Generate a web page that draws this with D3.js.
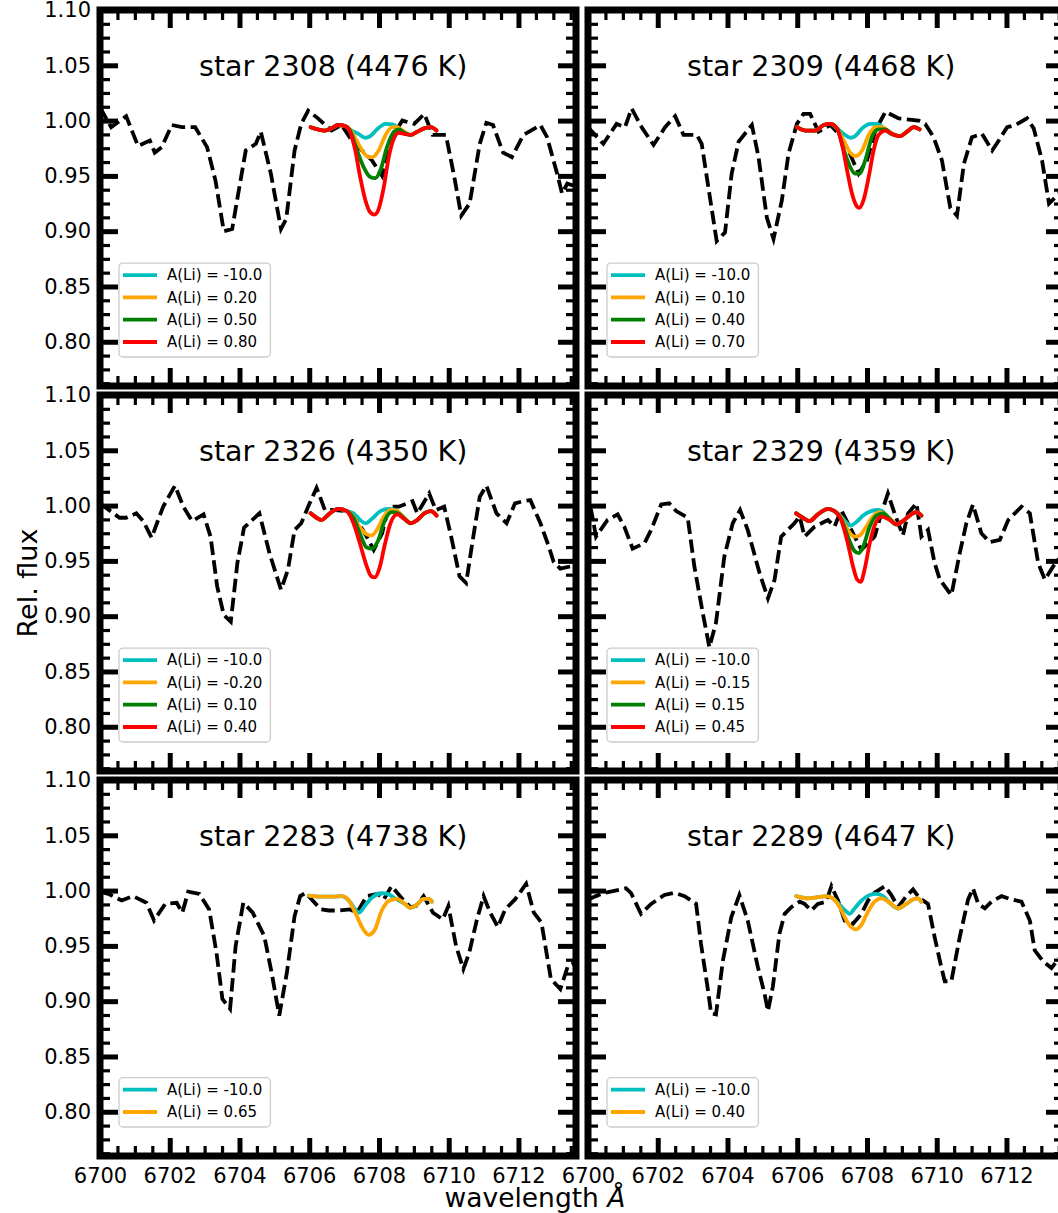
<!DOCTYPE html>
<html>
<head>
<meta charset="utf-8">
<script src="https://d3js.org/d3.v7.min.js"></script>
<style>
  body { margin: 0; background: #fff; }
  svg { display: block; font-family: "DejaVu Sans", sans-serif; }
</style>
</head>
<body>
<div id="chart"></div>
<script>
// axis setup
const xDomain = [6700, 6713.65];
const yDomain = [0.76, 1.10];
const xMajor = [6700, 6702, 6704, 6706, 6708, 6710, 6712];
const yMajor = [0.80, 0.85, 0.90, 0.95, 1.00, 1.05, 1.10];

const titles = ["star 2308 (4476 K)", "star 2309 (4468 K)", "star 2326 (4350 K)",
                "star 2329 (4359 K)", "star 2283 (4738 K)", "star 2289 (4647 K)"];
const labels2308 = ["-10.0", "0.20", "0.50", "0.80"];
const labels2309 = ["-10.0", "0.10", "0.40", "0.70"];
const labels2326 = ["-10.0", "-0.20", "0.10", "0.40"];
const labels2329 = ["-10.0", "-0.15", "0.15", "0.45"];
const labels2283 = ["-10.0", "0.65"];
const labels2289 = ["-10.0", "0.40"];
const fitColors = ["#00bfbf", "#ffa500", "#008000", "#ff0000"];

// observed spectra [wavelength, rel. flux]
const obs2308 = [[6700.00,1.012],[6700.32,0.994],[6700.75,1.004],[6701.09,0.977],[6701.43,0.982],[6701.57,0.971],
  [6701.77,0.976],[6702.06,0.996],[6702.35,0.994],[6702.73,0.994],[6703.07,0.976],[6703.31,0.946],[6703.55,0.900],
  [6703.79,0.902],[6704.03,0.946],[6704.18,0.973],[6704.47,0.979],[6704.61,0.990],[6704.90,0.952],[6705.19,0.902],
  [6705.34,0.911],[6705.58,0.973],[6705.77,0.997],[6705.97,1.009],[6706.25,1.002],[6706.64,0.991],[6706.93,0.996],
  [6707.22,0.982],[6707.51,0.973],[6707.80,0.964],[6708.09,0.950],[6708.38,0.985],[6708.67,1.000],[6709.01,0.997],
  [6709.30,1.006],[6709.54,0.987],[6709.92,0.987],[6710.16,0.949],[6710.36,0.914],[6710.60,0.925],[6710.89,0.979],
  [6711.08,0.998],[6711.27,0.996],[6711.56,0.971],[6711.81,0.967],[6712.14,0.987],[6712.63,0.996],[6712.82,0.985],
  [6713.11,0.952],[6713.25,0.934],[6713.40,0.943],[6713.70,0.940]];
const obs2309 = [[6700.00,0.994],[6700.44,0.979],[6700.82,0.997],[6701.06,0.994],[6701.25,1.011],[6701.54,0.994],
  [6701.88,0.978],[6702.21,0.994],[6702.50,1.004],[6702.74,0.987],[6703.12,0.987],[6703.26,0.979],[6703.45,0.940],
  [6703.69,0.891],[6703.93,0.899],[6704.12,0.952],[6704.32,0.981],[6704.70,0.996],[6704.89,0.967],[6705.13,0.912],
  [6705.32,0.893],[6705.56,0.928],[6705.75,0.970],[6705.99,0.997],[6706.18,1.006],[6706.37,1.006],[6706.61,0.990],
  [6706.95,0.996],[6707.19,0.988],[6707.47,0.973],[6707.76,0.952],[6708.00,0.964],[6708.24,0.991],[6708.53,1.008],
  [6708.91,1.002],[6709.48,1.000],[6709.67,0.997],[6709.91,0.985],[6710.15,0.964],[6710.39,0.921],[6710.58,0.914],
  [6710.78,0.961],[6711.01,0.985],[6711.30,0.988],[6711.59,0.973],[6711.78,0.982],[6712.02,0.994],[6712.26,0.996],
  [6712.59,1.002],[6712.78,0.993],[6713.02,0.964],[6713.22,0.925],[6713.41,0.931],[6713.70,0.940]];
const obs2326 = [[6700.00,1.002],[6700.17,0.998],[6700.56,0.989],[6700.75,0.989],[6701.04,0.993],[6701.24,0.986],
  [6701.48,0.971],[6701.81,0.999],[6702.15,1.018],[6702.39,0.999],[6702.64,0.986],[6702.97,0.992],[6703.17,0.972],
  [6703.36,0.927],[6703.55,0.901],[6703.75,0.895],[6703.94,0.948],[6704.13,0.980],[6704.57,0.993],[6704.86,0.957],
  [6705.19,0.924],[6705.39,0.942],[6705.58,0.978],[6705.77,0.984],[6706.01,1.002],[6706.21,1.016],[6706.45,0.996],
  [6706.74,0.996],[6707.03,0.995],[6707.32,0.989],[6707.61,0.974],[6707.85,0.960],[6708.09,0.975],[6708.28,0.999],
  [6708.57,0.999],[6708.96,1.004],[6709.10,0.993],[6709.44,1.011],[6709.63,0.996],[6709.87,0.999],[6710.07,0.972],
  [6710.31,0.936],[6710.50,0.930],[6710.69,0.969],[6710.89,1.008],[6711.08,1.018],[6711.37,0.993],[6711.66,0.984],
  [6711.90,1.002],[6712.14,1.004],[6712.34,1.005],[6712.63,0.984],[6712.87,0.963],[6713.01,0.949],[6713.20,0.943],
  [6713.49,0.945],[6713.70,0.945]];
const obs2329 = [[6700.00,0.998],[6700.09,0.996],[6700.23,0.972],[6700.56,0.987],[6700.85,0.992],[6701.04,0.981],
  [6701.28,0.961],[6701.62,0.966],[6701.81,0.978],[6702.10,1.001],[6702.33,1.002],[6702.53,0.995],[6702.86,0.989],
  [6703.05,0.945],[6703.29,0.903],[6703.48,0.872],[6703.67,0.894],[6703.91,0.954],[6704.15,0.984],[6704.36,0.996],
  [6704.58,0.978],[6704.92,0.939],[6705.16,0.916],[6705.35,0.933],[6705.54,0.972],[6705.92,0.984],[6706.07,0.990],
  [6706.21,0.972],[6706.50,0.981],[6706.88,0.987],[6707.07,0.981],[6707.26,0.996],[6707.55,0.978],[6707.84,0.960],
  [6708.22,0.972],[6708.41,0.993],[6708.60,1.011],[6708.79,0.993],[6709.03,0.973],[6709.18,0.993],[6709.42,1.002],
  [6709.56,0.972],[6709.75,0.978],[6709.94,0.948],[6710.09,0.933],[6710.42,0.919],[6710.66,0.957],[6710.85,0.984],
  [6711.04,1.001],[6711.28,0.975],[6711.52,0.967],[6711.81,0.969],[6712.05,0.987],[6712.24,0.993],[6712.43,0.999],
  [6712.67,0.993],[6712.91,0.948],[6713.10,0.933],[6713.34,0.945],[6713.48,0.951],[6713.70,0.950]];
const obs2283 = [[6700.00,0.999],[6700.24,0.997],[6700.62,0.991],[6700.95,0.995],[6701.33,0.989],[6701.55,0.973],
  [6701.87,0.988],[6702.20,0.989],[6702.36,0.980],[6702.53,0.999],[6702.85,0.997],[6703.13,0.983],[6703.34,0.944],
  [6703.51,0.902],[6703.73,0.893],[6703.89,0.950],[6704.11,0.989],[6704.38,0.980],[6704.71,0.959],[6704.92,0.926],
  [6705.14,0.887],[6705.36,0.926],[6705.58,0.977],[6705.74,0.995],[6705.90,0.998],[6706.07,0.992],[6706.34,0.983],
  [6706.56,0.982],[6706.88,0.982],[6707.16,0.983],[6707.37,0.980],[6707.65,0.995],[6707.97,0.997],[6708.14,0.992],
  [6708.36,1.004],[6708.63,0.994],[6708.90,0.985],[6709.06,0.986],[6709.28,0.995],[6709.55,0.980],[6709.83,0.974],
  [6709.99,0.986],[6710.21,0.950],[6710.42,0.929],[6710.59,0.944],[6710.81,0.974],[6711.00,0.995],[6711.19,0.980],
  [6711.41,0.967],[6711.62,0.983],[6711.90,0.992],[6712.22,1.006],[6712.44,0.980],[6712.66,0.971],[6712.93,0.920],
  [6713.20,0.911],[6713.42,0.932],[6713.70,0.936]];
const obs2289 = [[6700.00,0.992],[6700.09,0.993],[6700.23,0.995],[6700.47,0.998],[6701.09,1.002],[6701.23,0.998],
  [6701.52,0.979],[6701.81,0.988],[6702.19,0.996],[6702.48,0.998],[6702.77,0.995],[6703.10,0.988],[6703.24,0.952],
  [6703.44,0.910],[6703.53,0.889],[6703.67,0.888],[6703.87,0.937],[6704.11,0.976],[6704.34,0.996],[6704.58,0.973],
  [6704.87,0.931],[6705.06,0.907],[6705.16,0.891],[6705.30,0.913],[6705.49,0.961],[6705.64,0.979],[6705.83,0.985],
  [6706.07,0.990],[6706.21,0.988],[6706.40,0.982],[6706.59,0.988],[6706.83,0.990],[6706.98,1.004],[6707.17,0.991],
  [6707.36,0.973],[6707.60,0.970],[6707.84,0.979],[6708.03,0.991],[6708.22,0.998],[6708.51,1.004],[6708.70,0.996],
  [6708.89,0.985],[6709.13,0.995],[6709.32,1.001],[6709.51,0.993],[6709.75,0.988],[6709.94,0.958],[6710.13,0.931],
  [6710.23,0.918],[6710.42,0.918],[6710.66,0.958],[6710.90,0.992],[6711.04,1.002],[6711.19,0.988],[6711.38,0.984],
  [6711.57,0.990],[6711.86,0.995],[6712.14,0.992],[6712.43,0.990],[6712.67,0.973],[6712.81,0.946],[6713.05,0.936],
  [6713.29,0.930],[6713.44,0.936],[6713.70,0.945]];

// synthetic fits: shared wings + line core for each A(Li)
const fit2308Left = [[6706.04,0.994],[6706.25,0.992],[6706.45,0.991],[6706.64,0.993],[6706.83,0.996],[6707.03,0.995]];
const fit2308Right = [[6708.91,0.987],[6709.10,0.990],[6709.30,0.993],[6709.49,0.994],[6709.65,0.991]];
const fit2308Cores = [
  [[6707.22,0.991],[6707.41,0.988],[6707.61,0.9845],[6707.75,0.986],[6707.94,0.992],[6708.19,0.997],[6708.38,0.9965],[6708.57,0.993],[6708.72,0.989]],
  [[6707.17,0.992],[6707.36,0.982],[6707.56,0.971],[6707.70,0.967],[6707.82,0.967],[6707.99,0.973],[6708.19,0.987],[6708.38,0.994],[6708.52,0.994],[6708.72,0.990]],
  [[6707.17,0.991],[6707.36,0.974],[6707.56,0.958],[6707.75,0.949],[6707.90,0.948],[6708.04,0.955],[6708.23,0.976],[6708.43,0.990],[6708.57,0.992],[6708.72,0.989]],
  [[6707.17,0.990],[6707.32,0.973],[6707.46,0.949],[6707.61,0.928],[6707.75,0.917],[6707.87,0.915],[6707.99,0.920],[6708.14,0.940],[6708.28,0.967],[6708.43,0.984],[6708.57,0.989],[6708.72,0.988]]
];
const fit2309Left = [[6705.99,0.994],[6706.23,0.991],[6706.52,0.991],[6706.76,0.996],[6706.95,0.997],[6707.14,0.993]];
const fit2309Right = [[6708.96,0.986],[6709.15,0.990],[6709.34,0.994],[6709.51,0.992]];
const fit2309Cores = [
  [[6707.33,0.988],[6707.52,0.9845],[6707.66,0.986],[6707.86,0.993],[6708.10,0.997],[6708.29,0.997],[6708.48,0.993],[6708.67,0.988]],
  [[6707.33,0.982],[6707.52,0.971],[6707.68,0.968],[6707.86,0.973],[6708.05,0.987],[6708.24,0.994],[6708.43,0.994],[6708.67,0.989]],
  [[6707.33,0.974],[6707.52,0.958],[6707.66,0.952],[6707.78,0.952],[6707.95,0.964],[6708.14,0.985],[6708.33,0.992],[6708.53,0.992],[6708.72,0.988]],
  [[6707.28,0.979],[6707.43,0.955],[6707.57,0.934],[6707.68,0.924],[6707.78,0.921],[6707.90,0.928],[6708.05,0.949],[6708.19,0.973],[6708.33,0.987],[6708.53,0.991],[6708.77,0.987]]
];
const fit2326Left = [[6706.04,0.993],[6706.21,0.989],[6706.35,0.987],[6706.59,0.993],[6706.83,0.997],[6707.08,0.995]];
const fit2326Right = [[6708.91,0.984],[6709.10,0.987],[6709.30,0.993],[6709.49,0.995],[6709.65,0.991]];
const fit2326Cores = [
  [[6707.27,0.993],[6707.46,0.987],[6707.61,0.984],[6707.80,0.988],[6708.04,0.995],[6708.28,0.997],[6708.47,0.996],[6708.67,0.990]],
  [[6707.27,0.990],[6707.46,0.980],[6707.65,0.974],[6707.78,0.973],[6707.94,0.978],[6708.14,0.990],[6708.33,0.996],[6708.52,0.995],[6708.72,0.989]],
  [[6707.27,0.989],[6707.46,0.974],[6707.65,0.962],[6707.80,0.961],[6707.97,0.968],[6708.16,0.986],[6708.36,0.994],[6708.55,0.993],[6708.74,0.988]],
  [[6707.27,0.984],[6707.46,0.965],[6707.65,0.945],[6707.78,0.936],[6707.88,0.935],[6708.01,0.943],[6708.17,0.965],[6708.33,0.984],[6708.52,0.992],[6708.72,0.988]]
];
const fit2329Left = [[6705.97,0.993],[6706.16,0.989],[6706.35,0.986],[6706.59,0.992],[6706.88,0.997],[6707.07,0.995]];
const fit2329Right = [[6708.84,0.983],[6709.03,0.986],[6709.22,0.991],[6709.42,0.994],[6709.56,0.991]];
const fit2329Cores = [
  [[6707.26,0.990],[6707.40,0.985],[6707.53,0.982],[6707.69,0.985],[6707.89,0.991],[6708.12,0.995],[6708.32,0.996],[6708.51,0.993],[6708.65,0.988]],
  [[6707.26,0.989],[6707.45,0.978],[6707.64,0.972],[6707.79,0.973],[6707.98,0.981],[6708.17,0.990],[6708.36,0.994],[6708.56,0.991],[6708.70,0.987]],
  [[6707.26,0.988],[6707.45,0.972],[6707.64,0.959],[6707.76,0.957],[6707.89,0.963],[6708.08,0.981],[6708.27,0.991],[6708.46,0.993],[6708.65,0.988]],
  [[6707.26,0.987],[6707.45,0.966],[6707.60,0.945],[6707.72,0.933],[6707.82,0.931],[6707.93,0.942],[6708.08,0.966],[6708.22,0.982],[6708.41,0.990],[6708.65,0.987]]
];
const fit2283Left = [[6705.99,0.9955],[6706.34,0.9946],[6706.67,0.9946],[6706.94,0.995]];
const fit2283Right = [[6708.90,0.9844],[6709.06,0.9865],[6709.28,0.9925],[6709.44,0.9925],[6709.52,0.990]];
const fit2283Cores = [
  [[6707.16,0.990],[6707.32,0.983],[6707.43,0.980],[6707.59,0.986],[6707.81,0.994],[6708.08,0.9976],[6708.25,0.997],[6708.46,0.993],[6708.74,0.988]],
  [[6707.10,0.9925],[6707.32,0.980],[6707.54,0.9655],[6707.70,0.960],[6707.87,0.964],[6708.08,0.982],[6708.30,0.991],[6708.52,0.9925],[6708.74,0.988]]
];
const fit2289Left = [[6705.97,0.995],[6706.31,0.993],[6706.59,0.994],[6706.83,0.995],[6707.02,0.993]];
const fit2289Right = [[6708.89,0.984],[6709.13,0.988],[6709.32,0.992],[6709.46,0.993],[6709.56,0.990]];
const fit2289Cores = [
  [[6707.22,0.987],[6707.41,0.981],[6707.50,0.979],[6707.65,0.984],[6707.84,0.991],[6708.08,0.996],[6708.27,0.997],[6708.46,0.995],[6708.65,0.989]],
  [[6707.22,0.985],[6707.41,0.973],[6707.55,0.967],[6707.69,0.965],[6707.84,0.969],[6708.03,0.981],[6708.22,0.990],[6708.41,0.993],[6708.65,0.989]]
];

const panels = [
  {title: titles[0], obs: obs2308, left: fit2308Left, cores: fit2308Cores, right: fit2308Right, labels: labels2308, col: 0, row: 0},
  {title: titles[1], obs: obs2309, left: fit2309Left, cores: fit2309Cores, right: fit2309Right, labels: labels2309, col: 1, row: 0},
  {title: titles[2], obs: obs2326, left: fit2326Left, cores: fit2326Cores, right: fit2326Right, labels: labels2326, col: 0, row: 1},
  {title: titles[3], obs: obs2329, left: fit2329Left, cores: fit2329Cores, right: fit2329Right, labels: labels2329, col: 1, row: 1},
  {title: titles[4], obs: obs2283, left: fit2283Left, cores: fit2283Cores, right: fit2283Right, labels: labels2283, col: 0, row: 2},
  {title: titles[5], obs: obs2289, left: fit2289Left, cores: fit2289Cores, right: fit2289Right, labels: labels2289, col: 1, row: 2}
];

const W = 1058, H = 1213;
const colX = [100, 588], rowY = [10, 395, 780];
const PW = 476, PH = 376;

const xMinor = d3.range(6700, 6714, 0.5).filter(v => !xMajor.includes(v));
const yMinor = d3.range(0, 28).map(i => 0.7625 + i * 0.0125).filter(v => Math.abs(v * 20 - Math.round(v * 20)) > 1e-6);

const svg = d3.select("#chart").append("svg")
  .attr("width", W).attr("height", H)
  .attr("viewBox", `0 0 ${W} ${H}`);

function styleAxis(sel, width) {
  sel.select(".domain").remove();
  sel.selectAll(".tick line").attr("stroke", "#000").attr("stroke-width", width);
  sel.selectAll(".tick text").attr("fill", "#000").style("font-size", "21px")
    .style("font-family", "DejaVu Sans, sans-serif");
}

panels.forEach((p, k) => {
  const x0 = colX[p.col], y0 = rowY[p.row];
  const x = d3.scaleLinear().domain(xDomain).range([x0, x0 + PW]);
  const y = d3.scaleLinear().domain(yDomain).range([y0 + PH, y0]);
  const g = svg.append("g");

  g.append("clipPath").attr("id", "clip" + k)
    .append("rect").attr("x", x0).attr("y", y0).attr("width", PW).attr("height", PH);

  const line = d3.line().x(d => x(d[0])).y(d => y(d[1]));
  const smooth = d3.line().curve(d3.curveMonotoneX).x(d => x(d[0])).y(d => y(d[1]));

  g.append("path").datum(p.obs)
    .attr("clip-path", `url(#clip${k})`)
    .attr("d", line)
    .attr("fill", "none").attr("stroke", "#000")
    .attr("stroke-width", 3.8).attr("stroke-dasharray", "13.5,5.5");

  p.cores.forEach((core, i) => {
    g.append("path").datum(p.left.concat(core, p.right))
      .attr("d", smooth)
      .attr("fill", "none").attr("stroke", fitColors[i])
      .attr("stroke-width", 3.8).attr("stroke-linejoin", "round").attr("stroke-linecap", "round");
  });

  // ticks, all pointing inward
  const showX = p.row === 2, showY = p.col === 0;
  g.append("g").attr("transform", `translate(0,${y0 + PH})`)
    .call(d3.axisBottom(x).tickValues(xMinor).tickSize(-10).tickFormat(""))
    .call(s => styleAxis(s, 3.2));
  g.append("g").attr("transform", `translate(0,${y0 + PH})`)
    .call(d3.axisBottom(x).tickValues(xMajor).tickSize(-18).tickPadding(12)
      .tickFormat(showX ? d3.format("d") : ""))
    .call(s => styleAxis(s, 5));
  g.append("g").attr("transform", `translate(0,${y0})`)
    .call(d3.axisTop(x).tickValues(xMinor).tickSize(-10).tickFormat(""))
    .call(s => styleAxis(s, 3.2));
  g.append("g").attr("transform", `translate(0,${y0})`)
    .call(d3.axisTop(x).tickValues(xMajor).tickSize(-18).tickFormat(""))
    .call(s => styleAxis(s, 5));
  g.append("g").attr("transform", `translate(${x0},0)`)
    .call(d3.axisLeft(y).tickValues(yMinor).tickSize(-10).tickFormat(""))
    .call(s => styleAxis(s, 3.2));
  g.append("g").attr("transform", `translate(${x0},0)`)
    .call(d3.axisLeft(y).tickValues(yMajor).tickSize(-18).tickPadding(9)
      .tickFormat(showY ? d3.format(".2f") : ""))
    .call(s => styleAxis(s, 5));
  g.append("g").attr("transform", `translate(${x0 + PW},0)`)
    .call(d3.axisRight(y).tickValues(yMinor).tickSize(-10).tickFormat(""))
    .call(s => styleAxis(s, 3.2));
  g.append("g").attr("transform", `translate(${x0 + PW},0)`)
    .call(d3.axisRight(y).tickValues(yMajor).tickSize(-18).tickFormat(""))
    .call(s => styleAxis(s, 5));

  g.append("rect").attr("x", x0).attr("y", y0).attr("width", PW).attr("height", PH)
    .attr("fill", "none").attr("stroke", "#000").attr("stroke-width", 7);

  g.append("text")
    .attr("x", x0 + PW * 0.49).attr("y", y0 + 66)
    .attr("text-anchor", "middle")
    .style("font-size", "28.5px")
    .text(p.title);

  // legend
  const rowH = 22.3;
  const lh = 12 + (p.labels.length - 1) * rowH + 15;
  const lx = x0 + 19, ly = y0 + PH - 29 - lh;
  const leg = g.append("g");
  const box = leg.append("rect")
    .attr("x", lx).attr("y", ly).attr("height", lh).attr("rx", 4)
    .attr("fill", "#fff").attr("fill-opacity", 0.8)
    .attr("stroke", "#cccccc").attr("stroke-width", 1.3);
  let maxW = 0;
  p.labels.forEach((lab, i) => {
    const cy = ly + 12 + i * rowH;
    leg.append("line").attr("x1", lx + 4).attr("x2", lx + 38).attr("y1", cy).attr("y2", cy)
      .attr("stroke", fitColors[i]).attr("stroke-width", 3.8);
    const t = leg.append("text").attr("x", lx + 48).attr("y", cy).attr("dy", "0.35em")
      .style("font-size", "15px").attr("fill", "#000")
      .text(`A(Li) = ${lab}`);
    maxW = Math.max(maxW, t.node().getComputedTextLength());
  });
  box.attr("width", 48 + maxW + 8);
});

svg.append("text")
  .attr("transform", `translate(28,${(rowY[0] + rowY[2] + PH) / 2}) rotate(-90)`)
  .attr("text-anchor", "middle").attr("dy", "0.35em")
  .style("font-size", "27px")
  .text("Rel. flux");

const xl = svg.append("text")
  .attr("x", 535).attr("y", 1207)
  .attr("text-anchor", "middle")
  .style("font-size", "26.5px");
xl.append("tspan").text("wavelength ");
xl.append("tspan").style("font-style", "italic").text("Å");
</script>
</body>
</html>
